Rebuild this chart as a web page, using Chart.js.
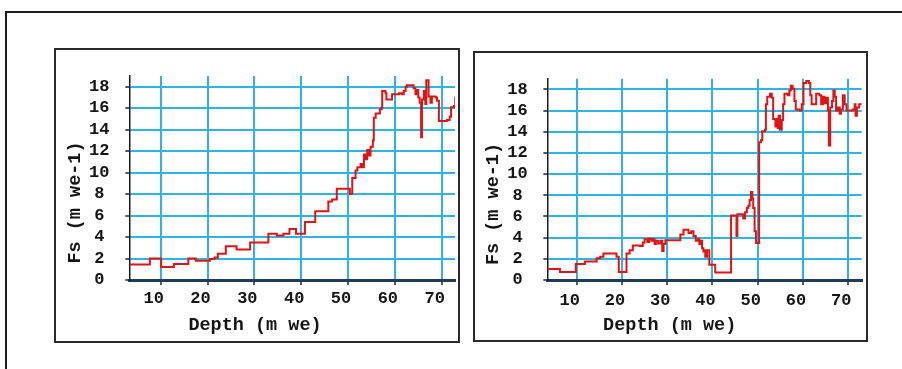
<!DOCTYPE html>
<html>
<head>
<meta charset="utf-8">
<script src="https://cdn.jsdelivr.net/npm/chart.js@4.4.1/dist/chart.umd.min.js"></script>
<style>
  html, body { margin: 0; padding: 0; background: #fff; width: 902px; height: 369px; overflow: hidden; }
  #frame { position: absolute; left: 5px; top: 11px; width: 1000px; height: 500px; border: 2px solid #1b1b1b; box-sizing: border-box; }
  .panel { position: absolute; border: 2px solid #2a2a2a; box-sizing: border-box; background: #fff; }
  #panelA { left: 54px; top: 48px; width: 406px; height: 295px; }
  #panelB { left: 473px; top: 51px; width: 395px; height: 291px; }
  canvas { display: block; }
</style>
</head>
<body>
<div id="frame"></div>
<div class="panel" id="panelA"><canvas id="chartA" width="402" height="291"></canvas></div>
<div class="panel" id="panelB"><canvas id="chartB" width="391" height="287"></canvas></div>
<script>
// Firn-core profiles: Fs against depth, step-wise records
const depthLeft = [3.3, 7.7, 10.1, 12.8, 15.9, 17.5, 20.5, 21.5, 22.2, 23.9, 26.2, 29.1, 33.0, 34.8, 36.2, 37.5, 38.9, 40.8, 43.0, 45.8, 46.6, 47.6, 50.4, 50.9, 51.6, 52.0, 52.7, 53.0, 53.4, 53.7, 54.1, 54.4, 54.8, 55.3, 55.5, 55.9, 56.8, 57.2, 57.3, 58.0, 58.2, 59.4, 60.9, 61.5, 61.9, 62.3, 62.6, 63.7, 64.0, 64.4, 64.6, 65.0, 65.3, 65.6, 65.8, 66.2, 66.5, 66.7, 67.2, 67.6, 67.9, 68.7, 69.0, 69.4, 71.1, 71.7, 72.0, 72.6, 72.9];
const fsLeft = [1.45, 2.0, 1.2, 1.5, 2.0, 1.8, 1.95, 2.1, 2.45, 3.15, 2.85, 3.5, 4.3, 4.15, 4.3, 4.75, 4.3, 5.4, 6.4, 7.3, 7.5, 8.5, 8.0, 9.5, 10.2, 10.5, 10.8, 10.5, 11.7, 11.25, 12.1, 11.6, 12.4, 13.0, 15.1, 15.5, 15.9, 16.1, 17.6, 17.4, 16.8, 17.3, 17.4, 17.3, 17.6, 18.0, 18.15, 18.15, 17.85, 17.3, 17.7, 17.0, 16.5, 13.3, 16.8, 17.6, 16.4, 18.6, 17.1, 16.5, 17.1, 17.0, 16.7, 14.8, 14.9, 15.2, 16.1, 16.2, 17.1];

const depthRight = [3.5, 6.3, 9.8, 11.8, 14.4, 15.2, 15.9, 18.8, 19.3, 21.0, 21.7, 22.4, 24.0, 24.6, 25.0, 25.6, 26.0, 26.5, 26.9, 27.2, 27.5, 28.0, 28.5, 28.9, 29.2, 29.6, 32.9, 33.6, 34.7, 35.3, 35.8, 36.3, 36.8, 37.1, 37.5, 37.7, 38.0, 38.2, 38.4, 38.8, 39.3, 40.6, 44.1, 45.3, 45.5, 46.8, 47.2, 47.6, 47.9, 48.2, 48.5, 48.8, 49.0, 49.3, 49.6, 50.3, 50.7, 51.0, 51.6, 51.8, 52.1, 52.7, 53.1, 53.4, 53.9, 54.1, 54.4, 54.6, 54.9, 55.3, 55.6, 55.9, 56.6, 57.0, 57.3, 57.7, 58.1, 58.4, 59.2, 59.7, 60.1, 60.7, 61.3, 61.6, 61.9, 62.9, 63.6, 64.0, 64.4, 64.7, 65.1, 65.5, 65.7, 66.0, 66.4, 66.7, 67.0, 67.3, 67.7, 68.1, 68.4, 68.8, 69.2, 69.6, 71.0, 71.4, 71.6, 71.9, 72.4, 73.0];
const fsRight = [1.05, 0.75, 1.5, 1.75, 2.05, 2.2, 2.5, 2.2, 0.75, 2.5, 2.8, 3.25, 3.2, 3.55, 3.85, 3.6, 3.9, 3.7, 3.85, 3.4, 3.7, 3.45, 3.7, 2.75, 3.4, 3.75, 4.3, 4.75, 4.45, 4.6, 4.15, 3.7, 3.85, 3.4, 3.7, 3.0, 2.7, 2.8, 2.2, 2.8, 1.45, 0.7, 6.1, 4.15, 6.2, 5.8, 6.4, 6.8, 7.0, 7.55, 8.3, 7.7, 6.8, 4.6, 3.5, 13.0, 13.2, 14.05, 14.2, 16.6, 17.3, 17.6, 17.2, 15.2, 14.5, 15.2, 14.35, 15.5, 14.2, 15.1, 16.6, 17.6, 17.45, 17.9, 18.35, 18.05, 16.9, 16.1, 16.0, 16.6, 18.6, 18.8, 18.6, 17.45, 16.6, 17.6, 17.45, 16.6, 17.3, 16.7, 17.2, 16.0, 12.7, 16.3, 16.9, 17.9, 17.3, 16.0, 16.3, 15.7, 16.1, 17.45, 16.6, 16.0, 16.1, 16.6, 15.5, 16.3, 16.6, 16.6];

const depthTicks = [10, 20, 30, 40, 50, 60, 70];
const fsTicks = [0, 2, 4, 6, 8, 10, 12, 14, 16, 18];
const xTitle = 'Depth (m we)';
const yTitle = 'Fs (m we-1)';

const MONO = '"Liberation Mono", "Courier New", monospace';
const GRID_BLUE = '#2db4e4';

// draws the axis captions, centred on the panel rather than the plot area
const captionPlugin = {
  id: 'captions',
  afterDraw(chart, args, opts) {
    const ctx = chart.ctx;
    ctx.save();
    ctx.font = 'bold 18.5px ' + MONO;
    ctx.fillStyle = '#151515';
    ctx.textAlign = 'center';
    ctx.textBaseline = 'middle';
    ctx.fillText(opts.xText, opts.xAt[0], opts.xAt[1]);
    ctx.translate(opts.yAt[0], opts.yAt[1]);
    ctx.rotate(-Math.PI / 2);
    ctx.fillText(opts.yText, 0, 0);
    ctx.restore();
  }
};

function drawProfile(id, depth, fs, g) {
  const points = depth.map((d, i) => ({ x: d, y: fs[i] }));
  return new Chart(document.getElementById(id), {
    type: 'line',
    data: {
      datasets: [{
        data: points,
        borderColor: '#e01414',
        borderWidth: 2,
        pointRadius: 0,
        stepped: 'before',
        fill: false
      }]
    },
    plugins: [captionPlugin],
    options: {
      responsive: false,
      animation: false,
      events: [],
      layout: { padding: { left: 0, top: g.padTop, right: g.padRight, bottom: 0 } },
      plugins: {
        legend: { display: false },
        tooltip: { enabled: false },
        captions: { xText: xTitle, yText: yTitle, xAt: g.xCap, yAt: g.yCap }
      },
      scales: {
        x: {
          type: 'linear',
          min: g.xMin,
          max: g.xMax,
          afterBuildTicks: ax => { ax.ticks = depthTicks.map(v => ({ value: v })); },
          afterFit: ax => { ax.height = g.xAxisH; },
          grid: { color: GRID_BLUE, lineWidth: 2, tickLength: 5, tickColor: '#222', tickWidth: 1.5 },
          border: { color: '#1f3d5a', width: 3 },
          ticks: {
            font: { family: MONO, size: 17, weight: 'bold' },
            color: '#151515',
            padding: g.xTickPad,
            labelOffset: -7,
            maxRotation: 0,
            autoSkip: false
          }
        },
        y: {
          type: 'linear',
          min: 0,
          max: 19,
          afterBuildTicks: ax => { ax.ticks = fsTicks.map(v => ({ value: v })); },
          afterFit: ax => { ax.width = g.yAxisW; },
          grid: { color: GRID_BLUE, lineWidth: 2, tickLength: 4, tickColor: '#222', tickWidth: 1.5 },
          border: { color: '#1a1a1a', width: 1.5 },
          ticks: {
            font: { family: MONO, size: 17, weight: 'bold' },
            color: '#151515',
            padding: g.yTickPad,
            crossAlign: 'center',
            autoSkip: false
          }
        }
      }
    }
  });
}

drawProfile('chartA', depthLeft, fsLeft, {
  xMin: 3.3, xMax: 72.84, yAxisW: 73.3, xAxisH: 61, padTop: 13.6, padRight: 3,
  yTickPad: 15.8, xTickPad: 3.5, xCap: [199, 275], yCap: [19, 152.5]
});

drawProfile('chartB', depthRight, fsRight, {
  xMin: 3.51, xMax: 72.96, yAxisW: 72.3, xAxisH: 60, padTop: 13, padRight: 4.3,
  yTickPad: 15.6, xTickPad: 5.5, xCap: [194.7, 272.7], yCap: [18, 151]
});
</script>
</body>
</html>
